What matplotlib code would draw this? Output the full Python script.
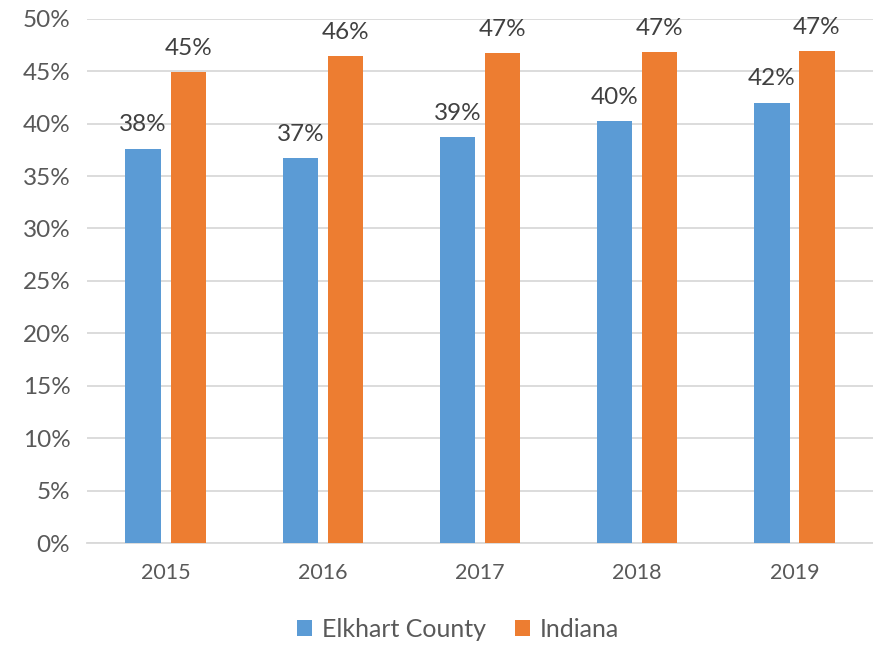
import matplotlib.pyplot as plt
import numpy as np

years = ["2015", "2016", "2017", "2018", "2019"]
elkhart = [37.6, 36.7, 38.7, 40.2, 42.0]
indiana = [44.9, 46.4, 46.7, 46.8, 46.9]
elkhart_labels = ["38%", "37%", "39%", "40%", "42%"]
indiana_labels = ["45%", "46%", "47%", "47%", "47%"]

plt.rcParams["font.family"] = ["Lato", "DejaVu Sans"]

blue = "#5B9BD5"
orange = "#ED7D31"
grid_c = "#D9D9D9"
text_c = "#595959"

fig = plt.figure(figsize=(8.73, 6.45), dpi=100)
ax = fig.add_axes([0.0997, 0.158, 0.9003, 0.813])

x = np.arange(len(years))
w = 0.225
off = 0.1435
b1 = ax.bar(x - off, elkhart, w, color=blue, label="Elkhart County", zorder=3)
b2 = ax.bar(x + off, indiana, w, color=orange, label="Indiana", zorder=3)

for bars, labels in ((b1, elkhart_labels), (b2, indiana_labels)):
    for bar, lab in zip(bars, labels):
        ax.text(bar.get_x() + bar.get_width() / 2, bar.get_height() + 1.3, lab,
                ha="center", va="bottom", fontsize=17.5, color="#404040")

ax.set_xlim(-0.5, len(years) - 0.5)
ax.set_ylim(0, 50)
ax.set_yticks(range(0, 51, 5))
ax.set_yticklabels([f"{v}%" for v in range(0, 51, 5)], fontsize=17.5, color=text_c)
ax.set_xticks(x)
ax.set_xticklabels(years, fontsize=15.5, color=text_c)
ax.tick_params(axis="both", length=0)
ax.tick_params(axis="x", pad=14)
ax.tick_params(axis="y", pad=12)

ax.yaxis.grid(True, color=grid_c, linewidth=1.3, zorder=0)
for s in ["top", "right", "left"]:
    ax.spines[s].set_visible(False)
ax.spines["bottom"].set_color(grid_c)
ax.spines["bottom"].set_linewidth(1.3)

fig.legend(loc="center", bbox_to_anchor=(0.525, 0.024), ncol=2, frameon=False,
           fontsize=18, handlelength=0.6, handleheight=0.6, columnspacing=1.15,
           handletextpad=0.4, labelcolor=text_c)

fig.savefig("out.png", dpi=100)
